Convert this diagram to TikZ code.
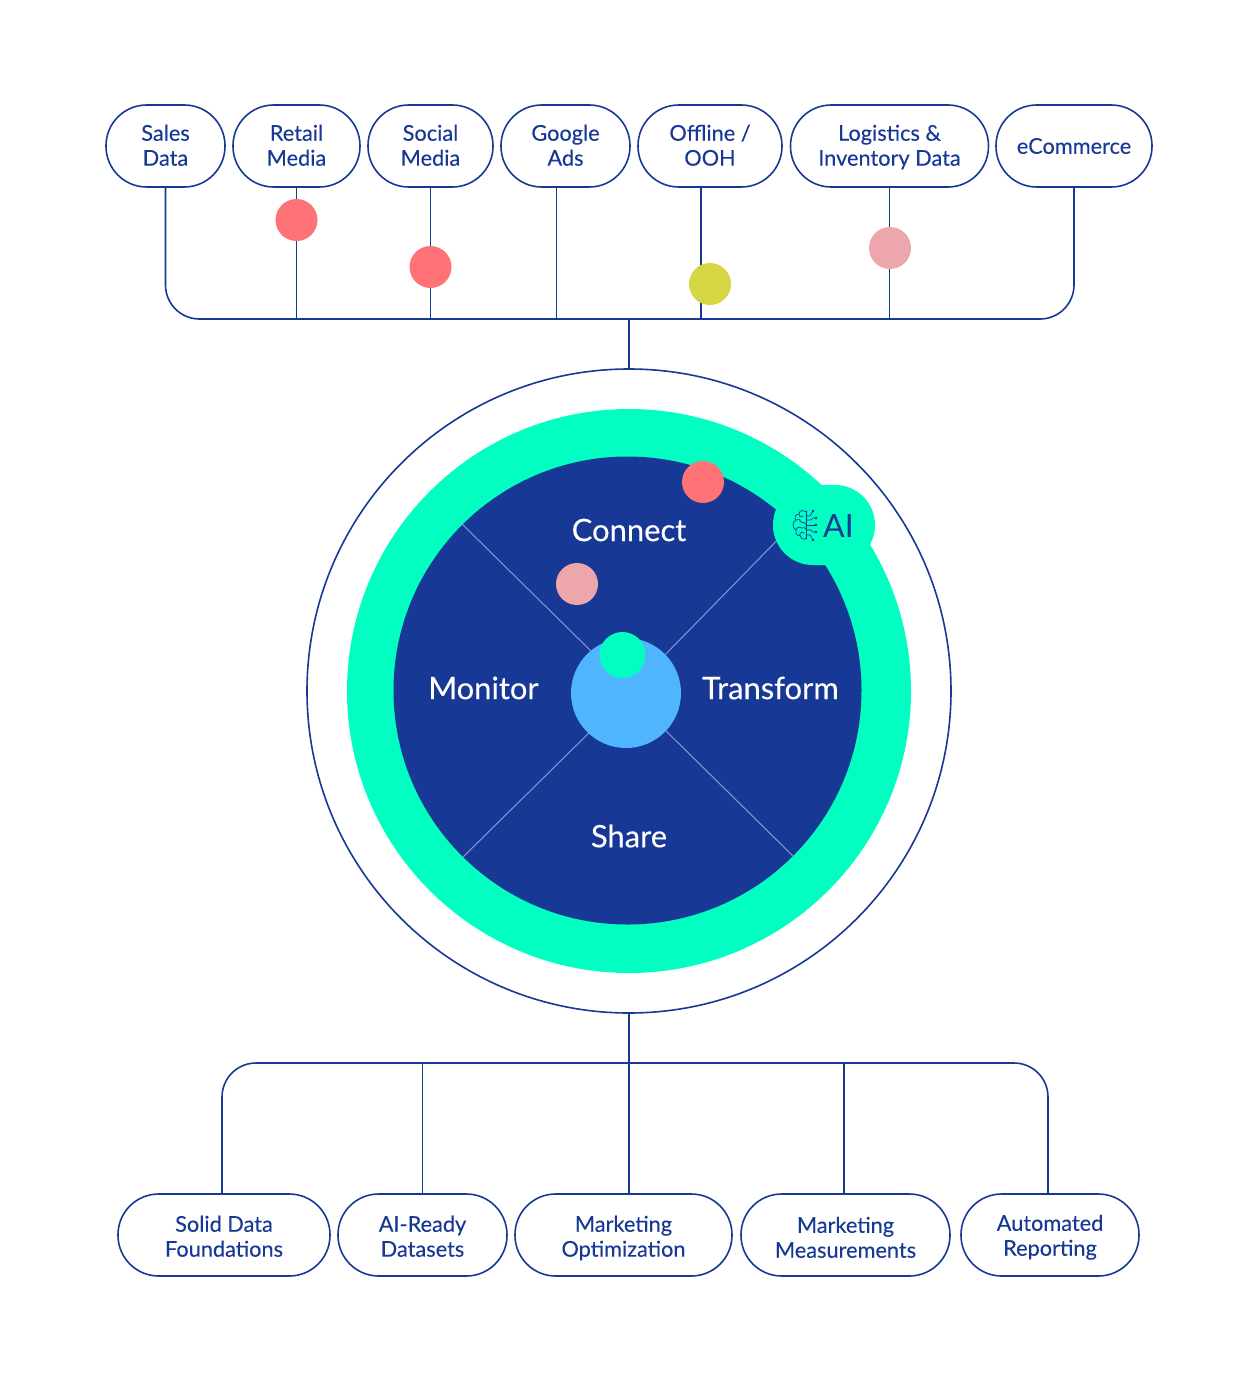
\documentclass[tikz,border=0pt]{standalone}
\usepackage{fontspec}
\setmainfont{Lato}
\newfontfamily\labfont[FakeBold=0.12]{Lato}
\definecolor{navy}{HTML}{183896}
\definecolor{mint}{HTML}{00FFC0}
\definecolor{sky}{HTML}{4FB5FF}
\definecolor{coral}{HTML}{FF7377}
\definecolor{blush}{HTML}{EDA6AC}
\definecolor{olive}{HTML}{D6D544}
\definecolor{spoke}{HTML}{8095D0}
% two-line label with fixed vertical extent; #1 = downward shift of the text block
\newcommand\twolines[3][0pt]{\rule{0pt}{\dimexpr 15.6pt+2\dimexpr #1\relax\relax}#2\\#3\rule[-4pt]{0pt}{4pt}}
\tikzset{
 pill/.style={draw=navy,line width=1.2pt,fill=white,rounded corners=30.5pt,minimum height=61.5pt,inner sep=0pt,align=center,text=navy,font=\labfont\fontsize{16.3}{18.7}\selectfont},
 wire/.style={draw=navy,line width=1.2pt},
 dot/.style={circle,minimum size=31.5pt,inner sep=0pt,fill=#1},
 disc/.style={circle,inner sep=0pt},
 sector/.style={text=white,font=\labfont\fontsize{23.2}{26}\selectfont},
 spokeline/.style={draw=spoke,line width=0.8pt},
 icon/.style={draw=navy,line width=0.5pt,line cap=round,line join=round},
}
\begin{document}
\begin{tikzpicture}[x=0.75pt,y=-0.75pt]
\useasboundingbox (0,0) rectangle (1258,1382);
% top pills
\node[pill,minimum width=89.25pt] (sales) at (165.5,146) {\twolines[-0.4pt]{Sales}{Data}};
\node[pill,minimum width=95.25pt] (retail) at (296.5,146) {\twolines[-0.4pt]{Retail}{Media}};
\node[pill,minimum width=93.75pt] (social) at (430.5,146) {\twolines[-0.4pt]{Social}{Media}};
\node[pill,minimum width=96.75pt] (google) at (565.5,146) {\twolines[-0.4pt]{Google\hspace{4.5pt}}{Ads}};
\node[pill,minimum width=108pt] (offline) at (710,146) {\twolines[-0.4pt]{Offline /\hspace{6.5pt}}{OOH}};
\node[pill,minimum width=148.5pt] (logistics) at (889.5,146) {\twolines[-0.4pt]{Logistics \&\hspace{3pt}}{Inventory Data}};
\node[pill,minimum width=117pt] (ecom) at (1074,146) {eCommerce};
% outer circle
\node[disc,draw=navy,line width=1.2pt,minimum size=483pt] (outer) at (629,691) {};
% top bus
\coordinate (gdrop) at (556.5,187);
\coordinate (odrop) at (701,187);
\coordinate (tbus) at (629,319);
\draw[wire,rounded corners=25.5pt] (sales.south) -- (sales.south |- tbus) -- (ecom.south |- tbus) -- (ecom.south);
\draw[wire] (retail.south) -- (retail.south |- tbus);
\draw[wire] (social.south) -- (social.south |- tbus);
\draw[wire] (gdrop) -- (gdrop |- tbus);
\draw[wire] (odrop) -- (odrop |- tbus);
\draw[wire] (logistics.south) -- (logistics.south |- tbus);
\draw[wire] (tbus) -- (outer.north);
% dots on wires
\node[dot=coral] (d1) at (296.5,220) {};
\node[dot=coral] (d2) at (430.5,267) {};
\node[dot=olive] (d3) at (710,284) {};
\node[dot=blush] (d4) at (890,248) {};
% wheel
\node[disc,fill=mint,minimum size=423pt] (ring) at (629,691) {};
\node[disc,fill=navy,minimum size=351pt] (wheel) at (627.5,690.5) {};
\coordinate (s1a) at (462,524); \coordinate (s1b) at (594,654);
\coordinate (s2a) at (793,524); \coordinate (s2b) at (660,660);
\coordinate (s3a) at (463,857); \coordinate (s3b) at (594,728);
\coordinate (s4a) at (793,856); \coordinate (s4b) at (660,725);
\draw[spokeline] (s1a) -- (s1b);
\draw[spokeline] (s2a) -- (s2b);
\draw[spokeline] (s3a) -- (s3b);
\draw[spokeline] (s4a) -- (s4b);
\node[disc,fill=sky,minimum size=82.5pt] (hub) at (626,693) {};
\node[dot=mint,minimum size=34.5pt] (hubdot) at (622.5,655) {};
\node[dot=coral] (d5) at (703,482) {};
\node[dot=blush] (d6) at (577,584) {};
% AI badge
\node[fill=mint,rounded corners=29.9pt,minimum width=76.5pt,minimum height=60pt,inner sep=0pt] (badge) at (824,525) {};
\node[text=navy,font=\fontsize{24}{27}\selectfont,inner sep=0pt] (ai) at (838.5,526) {AI};
% brain icon
\draw[icon] (806,511) -- (806,539);
\draw[icon] (806,512) .. controls (803,509.5) and (799,510.5) .. (799,514)
 .. controls (795,514) and (794,518) .. (796,520)
 .. controls (792,522) and (792,528) .. (796,530)
 .. controls (795,534) and (798,536.5) .. (800,535.5)
 .. controls (801,539.5) and (805,540) .. (806,538);
\draw[icon] (799,514) .. controls (799,517) and (802,518) .. (803,516);
\draw[icon] (796,520) .. controls (798,518) and (801,520) .. (801,522) .. controls (803,522) and (805,523) .. (806,524);
\draw[icon] (796,530) .. controls (797,527) and (800,526) .. (802,528) .. controls (804,527) and (805,528) .. (806,529);
\draw[icon] (800,535.5) .. controls (799,533) and (802,531) .. (804,533);
\draw[icon] (806,516) -- (810,516) -- (813,511);
\draw[icon] (806,520) -- (811,520) -- (813,518) -- (816,518);
\draw[icon] (806,525) -- (816,525);
\draw[icon] (806,530) -- (811,530) -- (813,532) -- (816,532);
\draw[icon] (806,535) -- (810,535) -- (813,540);
\foreach \px/\py in {813/511,816/518,816/525,816/532,813/540}
  \fill[navy] (\px,\py) circle (1.4);
% sector labels
\node[sector] (connect) at (629,530) {Connect};
\node[sector] (monitor) at (483.5,688) {Monitor};
\node[sector] (transform) at (770.5,688) {Transform};
\node[sector] (share) at (629,836) {Share};
% bottom pills
\node[pill,minimum width=159pt] (solid) at (224,1235) {\twolines[1.1pt]{Solid Data}{Foundations}};
\node[pill,minimum width=126.75pt] (aiready) at (422.5,1235) {\twolines[1.1pt]{AI-Ready}{Datasets}};
\node[pill,minimum width=162.75pt] (optim) at (623.5,1235) {\twolines[1.1pt]{Marketing}{Optimization}};
\node[pill,minimum width=156.75pt] (measure) at (845.5,1235) {\twolines[1.9pt]{Marketing}{Measurements}};
\node[pill,minimum width=133.5pt] (auto) at (1050,1235) {\twolines[0.4pt]{Automated}{Reporting}};
% bottom bus
\coordinate (bbus) at (629,1063);
\coordinate (bl) at (222,1194);
\coordinate (bm) at (629,1194);
\coordinate (bn) at (844,1194);
\coordinate (br) at (1048,1194);
\draw[wire] (outer.south) -- (bm);
\draw[wire,rounded corners=25.5pt] (bl) -- (bl |- bbus) -- (br |- bbus) -- (br);
\draw[wire] (aiready.north) -- (aiready.north |- bbus);
\draw[wire] (bn) -- (bn |- bbus);
\end{tikzpicture}
\end{document}
